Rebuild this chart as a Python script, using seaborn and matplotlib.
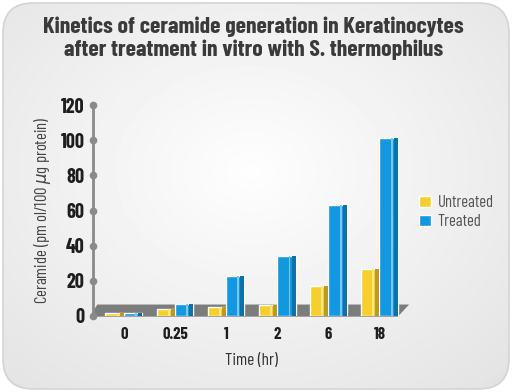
import numpy as np
import pandas as pd
import seaborn as sns
import matplotlib.pyplot as plt
from matplotlib import transforms
from matplotlib.patches import FancyBboxPatch, Polygon, Rectangle
from matplotlib.colors import to_rgb

# ---------------------------------------------------------------- data ---- #
times = ["0", "0.25", "1", "2", "6", "18"]
untreated = [1.5, 4, 5, 6, 17, 27]
treated = [1.5, 7, 23, 34, 63, 101]
y_ticks = [0, 20, 40, 60, 80, 100, 120]

title = ("Kinetics of ceramide generation in Keratinocytes\n"
         "after treatment in vitro with S. thermophilus")

df = pd.DataFrame({
    "time": times * 2,
    "group": ["Untreated"] * len(times) + ["Treated"] * len(times),
    "value": untreated + treated,
})
colors = {"Untreated": "#f7cf2c", "Treated": "#1298e0"}

# ------------------------------------------------------------- styling ---- #
sns.set_theme(style="white")
plt.rcParams['font.family'] = ['Barlow Condensed', 'DejaVu Sans']

fig = plt.figure(figsize=(5.12, 3.92), dpi=100)
fig.patch.set_facecolor("white")

# soft grey card in the background
bg = fig.add_axes([0, 0, 1, 1], zorder=0)
bg.set_xlim(0, 512)
bg.set_ylim(0, 392)
bg.set_axis_off()
yy, xx = np.mgrid[0:392, 0:512]
r = np.sqrt(((xx - 250) / 320.0) ** 2 + ((yy - 220) / 250.0) ** 2)
shade = np.clip(0.995 - 0.09 * r, 0.88, 0.995)
img = bg.imshow(shade, cmap="gray", vmin=0, vmax=1, origin="lower",
                extent=[0, 512, 0, 392], aspect="auto")
card = FancyBboxPatch((3, 3), 506, 386, boxstyle="round,pad=0,rounding_size=30",
                      facecolor="none", edgecolor="#d4d4d4", lw=1.2,
                      transform=bg.transData)
bg.add_patch(card)
img.set_clip_path(card)

# ---------------------------------------------------------------- chart ---- #
ax = fig.add_axes([0.182, 0.194, 0.619, 0.538], zorder=1)
ax.patch.set_alpha(0)

sns.barplot(data=df, x="time", y="value", hue="group", palette=colors,
            width=0.72, saturation=1, ax=ax, zorder=3)

ax.set_xlim(-0.6, 5.6)
ax.set_ylim(0, 120)

# grey floor the bars stand on
floor = Polygon([(-0.66, -0.4), (5.36, -0.4), (5.58, 6.5), (-0.52, 6.5)],
                closed=True, facecolor="#7c7c7c", edgecolor="none",
                zorder=2, clip_on=False)
ax.add_patch(floor)

# fake 3D shading on each bar
for cont in ax.containers:
    for bar in cont:
        x, w, h = bar.get_x(), bar.get_width(), bar.get_height()
        base = np.array(to_rgb(bar.get_facecolor()))
        dark = base * 0.75
        light = base + (1 - base) * 0.45
        ax.add_patch(Rectangle((x + w * 0.78, 0), w * 0.22, h,
                               facecolor=dark, edgecolor="none", zorder=4))
        ax.add_patch(Rectangle((x + w * 0.62, 0), w * 0.1, h,
                               facecolor=light, edgecolor="none", zorder=4))

# axis: grey line with dots at ticks
sns.despine(ax=ax, left=False, bottom=True)
ax.spines["left"].set_color("#8a8a8a")
ax.spines["left"].set_linewidth(2.0)
ax.set_yticks(y_ticks)
ax.tick_params(axis="y", length=0, pad=6, labelsize=14.5, labelcolor="#1e1e1e")
ax.tick_params(axis="x", length=0, pad=8, labelsize=12, labelcolor="#1e1e1e")
for lab in ax.get_yticklabels() + ax.get_xticklabels():
    lab.set_fontweight("bold")
dot_tr = transforms.blended_transform_factory(ax.transAxes, ax.transData)
ax.plot(np.zeros(len(y_ticks)), y_ticks, "o", color="#8a8a8a", ms=4.5,
        transform=dot_tr, clip_on=False, zorder=5)

ax.set_xlabel("Time (hr)", fontsize=12.5, color="#333333", labelpad=8)
ax.set_ylabel(r"Ceramide (pm ol/100 $\mu$g protein)", fontsize=12,
              color="#444444", labelpad=6)

ax.legend(loc="upper left", bbox_to_anchor=(0.79, 0.54),
          bbox_transform=fig.transFigure, frameon=False, fontsize=12,
          handlelength=0.7, handleheight=0.7, handletextpad=0.4,
          labelspacing=0.25, labelcolor="#555555")

fig.text(0.495, 0.902, title, ha="center", va="center", fontsize=17,
         fontweight="bold", color="#3a3a3a", linespacing=1.15)

fig.savefig("out.png", dpi=100, facecolor="white")
